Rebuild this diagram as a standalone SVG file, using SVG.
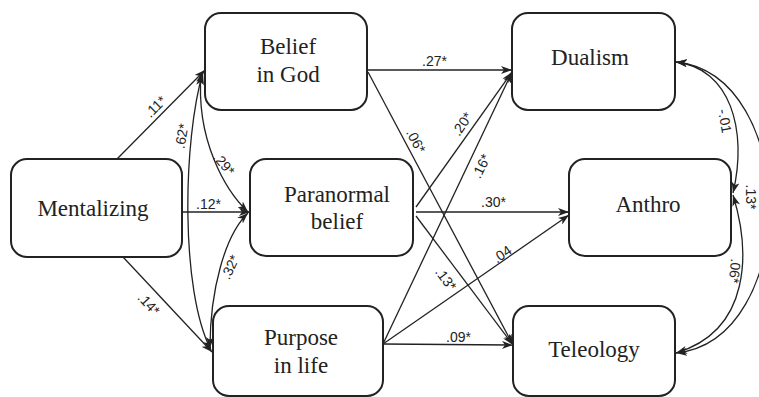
<svg xmlns="http://www.w3.org/2000/svg" width="759" height="397" viewBox="0 0 759 397">
<style>
.box{fill:#fff;stroke:#222;stroke-width:2}
.nt{font-family:"Liberation Serif","Times New Roman",serif;font-size:23px;fill:#222;text-anchor:middle}
.ln{fill:none;stroke:#222;stroke-width:1.3;marker-end:url(#ah)}
.cv{fill:none;stroke:#222;stroke-width:1.3;marker-start:url(#ah);marker-end:url(#ah)}
.lb{font-family:"Liberation Sans",Arial,sans-serif;font-size:14px;fill:#222;text-anchor:middle}
</style>
<defs>
<marker id="ah" markerWidth="11" markerHeight="8" refX="11" refY="4" orient="auto-start-reverse" markerUnits="userSpaceOnUse">
<path d="M0,0 L11,4 L0,8 L3,4 z" fill="#222"/>
</marker>
</defs>
<rect width="759" height="397" fill="#fff"/>
<g id="connectors">
<path class="ln" d="M117,159 L205,70"/>
<path class="ln" d="M182,212 L250,212"/>
<path class="ln" d="M123,257 L212,352"/>
<path class="ln" d="M367,70 L512,70"/>
<path class="ln" d="M368,72 L513,345"/>
<path class="ln" d="M416,207 L512,72"/>
<path class="ln" d="M383,344 L512,72"/>
<path class="ln" d="M416,212 L569,212"/>
<path class="ln" d="M416,216 L513,345"/>
<path class="ln" d="M383,344 L569,215"/>
<path class="ln" d="M383,344 L513,345"/>
<path class="cv" d="M203,72 C183,140 180,290 211,350"/>
<path class="cv" d="M201,74 C196,140 225,190 248,212"/>
<path class="cv" d="M248,213 C225,235 210,290 210,348"/>
<path class="cv" d="M676,62 C730,68 748,130 733,193"/>
<path class="cv" d="M676,62 C800,75 800,340 676,353"/>
<path class="cv" d="M733,195 C750,250 752,330 676,353"/>
<g class="labels">
<text class="lb" transform="translate(155.5,106.5) rotate(-45)" y="5">.11*</text>
<text class="lb" transform="translate(181.5,136) rotate(-80)" y="5">.62*</text>
<text class="lb" transform="translate(224,164) rotate(50)" y="5">.29*</text>
<text class="lb" x="208.5" y="209">.12*</text>
<text class="lb" transform="translate(149,304) rotate(47)" y="5">.14*</text>
<text class="lb" transform="translate(230,267) rotate(-65)" y="5">.32*</text>
<text class="lb" x="434.5" y="66">.27*</text>
<text class="lb" transform="translate(416,141) rotate(62)" y="5">.06*</text>
<text class="lb" transform="translate(462,124) rotate(-56)" y="5">.20*</text>
<text class="lb" transform="translate(481,166) rotate(-64)" y="5">.16*</text>
<text class="lb" x="493.5" y="207">.30*</text>
<text class="lb" transform="translate(446,279) rotate(53)" y="5">.13*</text>
<text class="lb" transform="translate(502,254) rotate(-35)" y="5">.04</text>
<text class="lb" x="458.5" y="342">.09*</text>
<text class="lb" transform="translate(725,121) rotate(80)" y="5">-.01</text>
<text class="lb" transform="translate(751,197) rotate(90)" y="5">.13*</text>
<text class="lb" transform="translate(735,271) rotate(95)" y="5">.06*</text>
</g>
</g>
<g id="mentalizing"><rect class="box" x="11" y="159" width="171" height="98" rx="16"/><text class="nt" x="93" y="216">Mentalizing</text></g>
<g id="belief-in-god"><rect class="box" x="205" y="13" width="162" height="97" rx="16"/><text class="nt" x="288" y="54">Belief</text><text class="nt" x="288" y="82">in God</text></g>
<g id="paranormal-belief"><rect class="box" x="250" y="159" width="163" height="97" rx="16"/><text class="nt" x="337" y="202">Paranormal</text><text class="nt" x="337" y="229">belief</text></g>
<g id="purpose-in-life"><rect class="box" x="213" y="306" width="170" height="90" rx="16"/><text class="nt" x="301" y="345">Purpose</text><text class="nt" x="301" y="373">in life</text></g>
<g id="dualism"><rect class="box" x="512" y="13" width="163" height="97" rx="16"/><text class="nt" x="590" y="65">Dualism</text></g>
<g id="anthro"><rect class="box" x="569" y="159" width="162" height="97" rx="16"/><text class="nt" x="648" y="212">Anthro</text></g>
<g id="teleology"><rect class="box" x="513" y="306" width="162" height="90" rx="16"/><text class="nt" x="594" y="357">Teleology</text></g>
</svg>
